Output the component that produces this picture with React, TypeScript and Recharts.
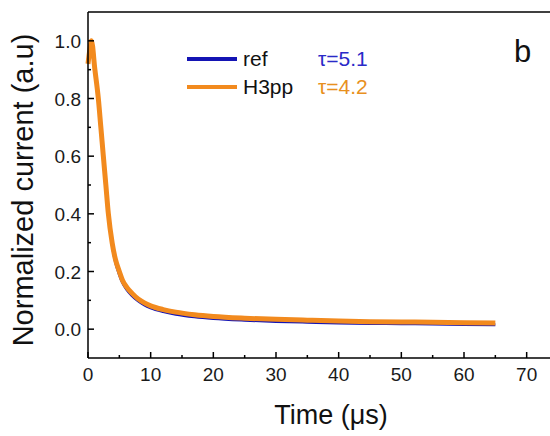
import React from 'react';
import { LineChart, Line, XAxis, YAxis, ReferenceLine, Label } from 'recharts';

const time = [0, 0.3, 0.55, 1.1, 1.65, 2.05, 2.45, 2.85, 3.25, 3.85, 4.4, 5.0, 5.5, 6.2, 7, 8, 9, 10, 12, 14, 17, 20, 25, 30, 35, 40, 45, 50, 55, 60, 65];
const refCurrent = [0.93, 0.97, 1.0, 0.9, 0.8, 0.7, 0.6, 0.5, 0.4, 0.295, 0.232, 0.19, 0.162, 0.137, 0.117, 0.098, 0.084, 0.074, 0.061, 0.052, 0.043, 0.037, 0.031, 0.027, 0.024, 0.021, 0.02, 0.019, 0.018, 0.016, 0.015];
const h3ppCurrent = [0.92, 0.97, 1.0, 0.9, 0.8, 0.7, 0.6, 0.5, 0.4, 0.3, 0.24, 0.2, 0.17, 0.145, 0.125, 0.105, 0.091, 0.081, 0.068, 0.059, 0.05, 0.044, 0.038, 0.034, 0.031, 0.028, 0.026, 0.025, 0.024, 0.022, 0.021];

const seriesNames = ['ref', 'H3pp'];
const seriesColors = ['#1414b4', '#f28a1e'];
const tauLabels = ['τ=5.1', 'τ=4.2'];
const tauColors = ['#2a2ac8', '#e8901e'];

const xTicks = [0, 5, 10, 15, 20, 25, 30, 35, 40, 45, 50, 55, 60, 65, 70];
const yTicks = [0, 0.1, 0.2, 0.3, 0.4, 0.5, 0.6, 0.7, 0.8, 0.9, 1.0];

const data = time.map((t, i) => ({ t, ref: refCurrent[i], h3pp: h3ppCurrent[i] }));

const FONT = '"Liberation Sans", Arial, sans-serif';

const XTick = (props: any) => {
  const { x, y, payload } = props;
  const major = payload.value % 10 === 0;
  return (
    <g>
      <line x1={x} y1={y} x2={x} y2={y - (major ? 6 : 3)} stroke="#000" strokeWidth={1.5} />
      {major && (
        <text x={x} y={y + 23} textAnchor="middle" fontSize={19} fontFamily={FONT} fill="#1a1a1a">
          {payload.value}
        </text>
      )}
    </g>
  );
};

const YTick = (props: any) => {
  const { x, y, payload } = props;
  const major = Math.round(payload.value * 10) % 2 === 0;
  return (
    <g>
      <line x1={x} y1={y} x2={x + (major ? 6 : 3)} y2={y} stroke="#000" strokeWidth={1.5} />
      {major && (
        <text x={x - 7} y={y + 7} textAnchor="end" fontSize={19} fontFamily={FONT} fill="#1a1a1a">
          {payload.value.toFixed(1)}
        </text>
      )}
    </g>
  );
};

const YTitle = (props: any) => {
  const { viewBox } = props;
  const cy = viewBox.y + viewBox.height / 2 + 5;
  return (
    <text
      transform={`translate(${viewBox.x + 33},${cy}) rotate(-90)`}
      textAnchor="middle"
      fontSize={29}
      fontFamily={FONT}
      fill="#111"
    >
      Normalized current (a.u)
    </text>
  );
};

const XTitle = (props: any) => {
  const { viewBox } = props;
  return (
    <text
      x={viewBox.x + viewBox.width / 2 + 8}
      y={viewBox.y + 66}
      textAnchor="middle"
      fontSize={27}
      fontFamily={FONT}
      fill="#111"
    >
      Time (μs)
    </text>
  );
};

export default function App() {
  return (
    <div style={{ position: 'absolute', left: 0, top: 0, width: 550, height: 436, overflow: 'hidden', background: '#fff' }}>
      <LineChart width={560} height={436} data={data} margin={{ top: 12, right: 2, bottom: 0, left: 0 }}>
        <XAxis
          type="number"
          dataKey="t"
          domain={[0, 75]}
          ticks={xTicks}
          interval={0}
          height={78}
          tickSize={0}
          tickMargin={0}
          tick={<XTick />}
          axisLine={{ stroke: '#000', strokeWidth: 1.5 }}
        >
          <Label content={<XTitle />} />
        </XAxis>
        <YAxis
          type="number"
          domain={[-0.1, 1.1]}
          ticks={yTicks}
          interval={0}
          width={88}
          tickSize={0}
          tickMargin={0}
          tick={<YTick />}
          axisLine={{ stroke: '#000', strokeWidth: 1.5 }}
        >
          <Label content={<YTitle />} />
        </YAxis>
        <ReferenceLine y={1.1} stroke="#000" strokeWidth={1.5} />
        <ReferenceLine x={75} stroke="#000" strokeWidth={1.5} />
        <Line type="monotone" dataKey="ref" name={seriesNames[0]} stroke={seriesColors[0]} strokeWidth={3} dot={false} isAnimationActive={false} />
        <Line type="monotone" dataKey="h3pp" name={seriesNames[1]} stroke={seriesColors[1]} strokeWidth={5} dot={false} isAnimationActive={false} />
      </LineChart>

      <div style={{ position: 'absolute', left: 187, top: 45, fontFamily: FONT }}>
        {seriesNames.map((name, i) => (
          <div key={name} style={{ position: 'relative', height: 28, width: 200 }}>
            <div style={{ position: 'absolute', left: 0, top: 12, width: 50, height: 4, background: seriesColors[i] }} />
            <div style={{ position: 'absolute', left: 56, top: 0, fontSize: 21, lineHeight: '28px', color: '#111' }}>{name}</div>
            <div style={{ position: 'absolute', left: 131, top: 0, fontSize: 21, lineHeight: '28px', color: tauColors[i] }}>{tauLabels[i]}</div>
          </div>
        ))}
      </div>
      <div style={{ position: 'absolute', left: 514, top: 34, fontFamily: FONT, fontSize: 31, color: '#111' }}>b</div>
    </div>
  );
}
